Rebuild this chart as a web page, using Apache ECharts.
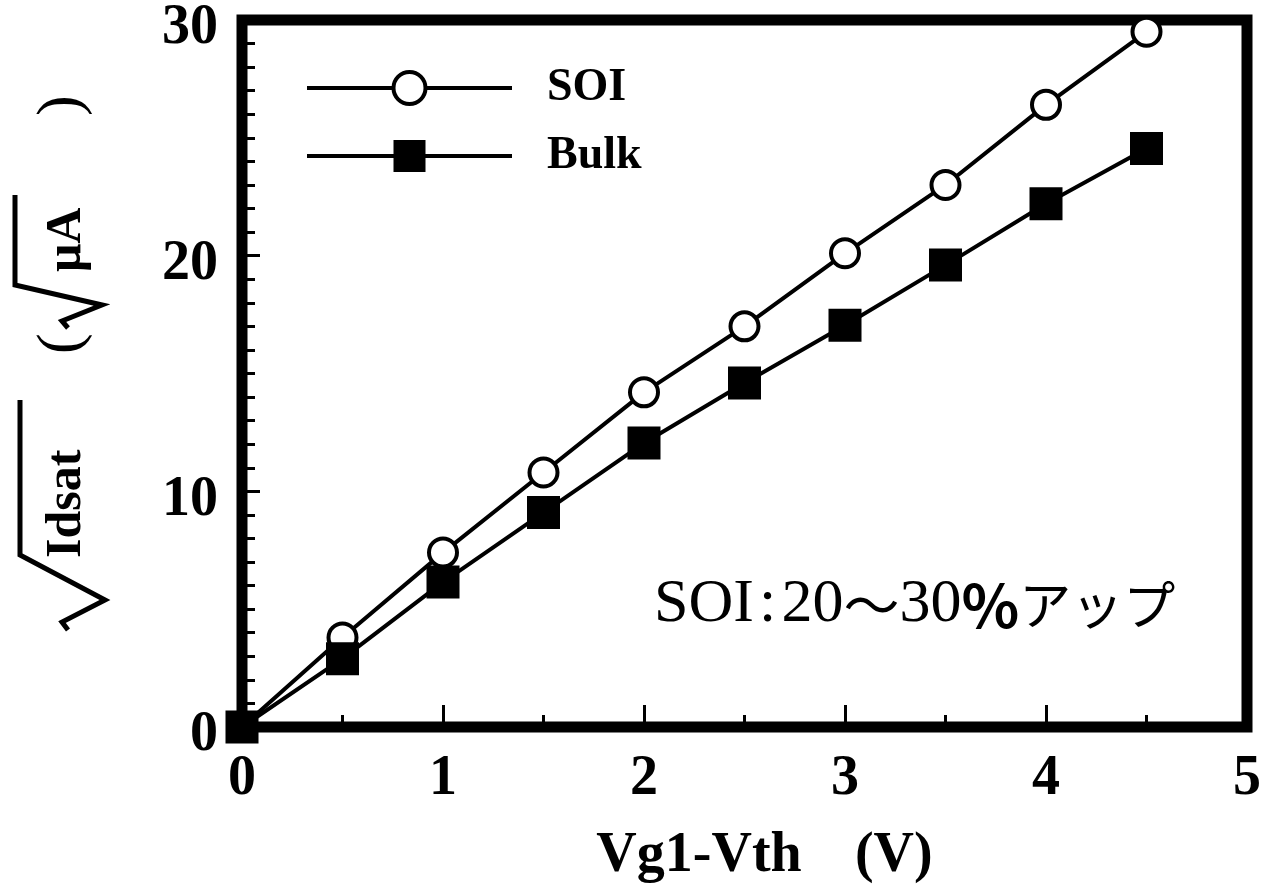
<!DOCTYPE html>
<html>
<head>
    <meta charset="utf-8">
    <title>SOI vs Bulk</title>
    <script src="https://cdn.jsdelivr.net/npm/echarts@6/dist/echarts.min.js"></script>
    <style>
        body { margin: 0; background: #fff; }
    </style>
</head>
<body>
    <div id="main" style="width: 1271px; height: 885px;"></div>

    <script type="text/javascript">
        // data
        var xValues = [0, 0.5, 1, 1.5, 2, 2.5, 3, 3.5, 4, 4.5];
        var soiValues = [0, 3.8, 7.4, 10.8, 14.2, 17.0, 20.1, 23.0, 26.4, 29.5];
        var bulkValues = [0, 2.9, 6.15, 9.1, 12.05, 14.6, 17.05, 19.6, 22.2, 24.55];
        var seriesNames = ['SOI', 'Bulk'];
        var xName = 'Vg1-Vth\u2002\u2009 (V)';
        var noteText = '{s|SOI\u200a:\u200a20}{c|～}{s|30}{p|%}{k|アップ}';

        var serif = '"Liberation Serif", "Times New Roman", serif';
        var cjk = '"Noto Sans CJK JP", sans-serif';

        function pairs(xs, ys) {
            var out = [];
            for (var i = 0; i < xs.length; i++) {
                out.push([xs[i], ys[i]]);
            }
            return out;
        }

        var myChart = echarts.init(document.getElementById('main'));

        var option = {
            animation: false,
            backgroundColor: '#fff',
            grid: {
                left: 242,
                right: 24,
                top: 20,
                bottom: 158,
                outerBoundsMode: 'none',
                containLabel: false,
                show: true,
                borderColor: '#000',
                borderWidth: 11
            },
            legend: {
                data: seriesNames,
                orient: 'vertical',
                left: 300,
                top: 60,
                itemWidth: 205,
                itemHeight: 40,
                itemGap: 22,
                lineStyle: { color: '#000', width: 4 },
                itemStyle: { borderWidth: 4 },
                textStyle: {
                    fontFamily: serif,
                    fontWeight: 'bold',
                    fontSize: 46,
                    color: '#000',
                    padding: [0, 0, 0, 30]
                }
            },
            xAxis: {
                type: 'value',
                min: 0,
                max: 5,
                interval: 1,
                name: xName,
                nameLocation: 'middle',
                nameGap: 102,
                nameTextStyle: {
                    fontFamily: serif,
                    fontWeight: 'bold',
                    fontSize: 56,
                    color: '#000',
                    padding: [0, 0, 0, 40]
                },
                axisLine: { show: false },
                axisTick: {
                    inside: true,
                    length: 22,
                    lineStyle: { color: '#000', width: 3 }
                },
                minorTick: {
                    show: true,
                    splitNumber: 2,
                    length: 12,
                    lineStyle: { color: '#000', width: 3 }
                },
                splitLine: { show: false },
                axisLabel: {
                    margin: 25,
                    fontFamily: serif,
                    fontWeight: 'bold',
                    fontSize: 56,
                    color: '#000'
                }
            },
            yAxis: {
                type: 'value',
                min: 0,
                max: 30,
                interval: 10,
                axisLine: { show: false },
                axisTick: {
                    inside: true,
                    length: 18,
                    lineStyle: { color: '#000', width: 3 }
                },
                minorTick: {
                    show: true,
                    splitNumber: 10,
                    length: 13,
                    lineStyle: { color: '#000', width: 3 }
                },
                splitLine: { show: false },
                axisLabel: {
                    margin: 24,
                    formatter: '{n|{value}}',
                    rich: {
                        n: {
                            padding: [18, 0, 0, 0],
                            fontFamily: serif,
                            fontWeight: 'bold',
                            fontSize: 56,
                            color: '#000'
                        }
                    }
                }
            },
            series: [
                {
                    name: 'SOI',
                    type: 'line',
                    data: pairs(xValues, soiValues),
                    symbol: 'circle',
                    symbolSize: 28,
                    lineStyle: { color: '#000', width: 4 },
                    itemStyle: { color: '#fff', borderColor: '#000', borderWidth: 4 }
                },
                {
                    name: 'Bulk',
                    type: 'line',
                    data: pairs(xValues, bulkValues),
                    symbol: 'rect',
                    symbolSize: 33,
                    lineStyle: { color: '#000', width: 4 },
                    itemStyle: { color: '#000' }
                }
            ],
            graphic: [
                {
                    // rotated y axis title: sqrt(Idsat) (sqrt(uA))
                    type: 'group',
                    x: 20,
                    y: 630,
                    rotation: Math.PI / 2,
                    children: [
                        {
                            type: 'polyline',
                            shape: { points: [[0, 48], [8, 42], [30, 85], [75, 0], [230, 0]] },
                            style: { stroke: '#000', lineWidth: 5, fill: null }
                        },
                        {
                            type: 'text',
                            x: 72,
                            y: 22,
                            style: { text: 'Idsat', font: 'bold 50px ' + serif, fill: '#000' }
                        },
                        {
                            type: 'text',
                            x: 276,
                            y: 12,
                            style: { text: '(', font: '62px ' + serif, fill: '#000' }
                        },
                        {
                            type: 'polyline',
                            shape: { points: [[302, 48], [309, 42], [325, 82], [345, -5], [435, -5]] },
                            style: { stroke: '#000', lineWidth: 5, fill: null }
                        },
                        {
                            type: 'text',
                            x: 358,
                            y: 22,
                            style: { text: 'μA', font: 'bold 50px ' + serif, fill: '#000' }
                        },
                        {
                            type: 'text',
                            x: 514,
                            y: 12,
                            style: { text: ')', font: '62px ' + serif, fill: '#000' }
                        }
                    ]
                },
                {
                    type: 'text',
                    x: 654,
                    y: 605,
                    style: {
                        text: noteText,
                        verticalAlign: 'middle',
                        fill: '#000',
                        rich: {
                            s: { fontFamily: serif, fontSize: 62, fill: '#000' },
                            c: { fontFamily: cjk, fontSize: 56, fill: '#000' },
                            p: { fontFamily: cjk, fontSize: 60, fontWeight: 'bold', fill: '#000' },
                            k: { fontFamily: cjk, fontSize: 52, fill: '#000' }
                        }
                    }
                }
            ]
        };

        myChart.setOption(option);
    </script>
</body>
</html>
